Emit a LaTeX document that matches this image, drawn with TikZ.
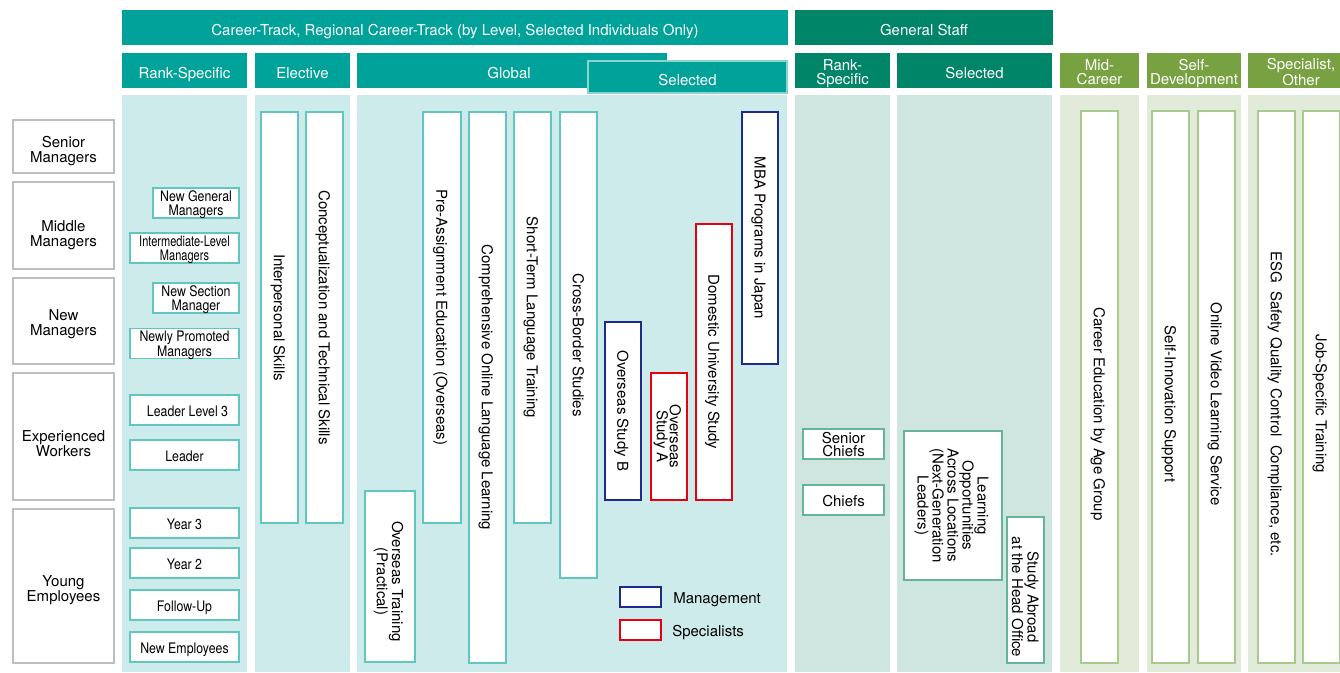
\documentclass[tikz,border=0pt]{standalone}
\usepackage{fontspec}
\setmainfont{TeX Gyre Heros}
\newfontfamily\narrowfont[FakeStretch=0.85]{TeX Gyre Heros}
\newfontfamily\narrowerfont[FakeStretch=0.76]{TeX Gyre Heros}
\usetikzlibrary{positioning}
\definecolor{hdteal}{HTML}{00A29A}
\definecolor{hdgreen}{HTML}{008569}
\definecolor{hdolive}{HTML}{78A241}
\definecolor{bgteal}{HTML}{CDEBEA}
\definecolor{bggreen}{HTML}{CEE5E0}
\definecolor{bgolive}{HTML}{E2EBD9}
\definecolor{lnteal}{HTML}{62C6C0}
\definecolor{lngreen}{HTML}{66B39C}
\definecolor{lnolive}{HTML}{A9CA8D}
\definecolor{lngray}{HTML}{BEBEBE}
\definecolor{tabline}{HTML}{8AD4CF}
\definecolor{mgmt}{HTML}{1E2A8C}
\definecolor{spec}{HTML}{E50012}
\newcommand\lift[1]{\rule{0pt}{#1pt}}
\begin{document}
\begin{tikzpicture}[x=1pt,y=-1pt,
  every node/.style={inner sep=0pt,align=center,text depth=0pt,font=\fontsize{15}{14}\selectfont},
  hdr/.style={fill=#1,text=white,minimum height=35,font=\fontsize{15}{14}\selectfont},
  lvl/.style={draw=lngray,line width=2pt,fill=white,minimum width=101,font=\fontsize{15}{15}\selectfont},
  rnk/.style={draw=#1,line width=1.2pt,fill=white,minimum height=30,font=\narrowfont\fontsize{14.5}{13.5}\selectfont},
  rnk/.default=lnteal,
  vbox/.style={draw=#1,line width=1.2pt,fill=white,rotate=-90,minimum height=37},
  vbox/.default=lnteal,
  selbox/.style={draw=#1,line width=2.2pt,fill=white,rotate=-90,minimum height=36},
  vtext/.style={rotate=-90}]
\clip (0,0) rectangle (1340,672);
\fill[white] (0,0) rectangle (1340,672);
%columns
\fill[bgteal] (122,95) rectangle (247,672);
\fill[bgteal] (255,95) rectangle (350,672);
\fill[bgteal] (357,95) rectangle (787,672);
\fill[bggreen] (795,95) rectangle (890,672);
\fill[bggreen] (897,95) rectangle (1052,672);
\fill[bgolive] (1060,95) rectangle (1139,672);
\fill[bgolive] (1147,95) rectangle (1241,672);
\fill[bgolive] (1248,95) rectangle (1354,672);
%headers
\node[hdr=hdteal,minimum width=666] (career) at (455,27.5) {\lift{16.5}Career-Track, Regional Career-Track (by Level, Selected Individuals Only)};
\node[hdr=hdgreen,minimum width=258] (gstaff) at (924,27.5) {\lift{16.5}General Staff};
\node[hdr=hdteal,minimum width=125] (hrank) at (184.5,70.5) {\lift{16.5}Rank-Specific};
\node[hdr=hdteal,minimum width=95] (helect) at (302.5,70.5) {\lift{16.5}Elective};
\node[hdr=hdteal,minimum width=310] (hglob) at (512,70.5) {\lift{16.5}Global\hspace*{6pt}};
\node[hdr=hdteal,draw=tabline,line width=1.5pt,minimum width=199,minimum height=32] (hgsel) at (687.5,77) {\lift{16}Selected};
\node[hdr=hdgreen,minimum width=95] (hgrank) at (842.5,70.5) {\lift{14}Rank-\\Specific};
\node[hdr=hdgreen,minimum width=155] (hgsel2) at (974.5,70.5) {\lift{16.5}Selected};
\node[hdr=hdolive,minimum width=79] (hmid) at (1099.5,70.5) {\lift{14}Mid-\\Career};
\node[hdr=hdolive,minimum width=94] (hself) at (1194,70.5) {\lift{14}Self-\\Development};
\node[hdr=hdolive,minimum width=106] (hspec) at (1301,70.5) {\lift{14}Specialist,\\Other};
%levels
\node[lvl,minimum height=53] (sm) at (63.5,146.5) {\lift{16.6}Senior\\Managers};
\node[lvl,minimum height=87] (mm) at (63.5,225.5) {\lift{27}Middle\\Managers};
\node[lvl,minimum height=86] (nm) at (63.5,321) {\lift{13}New\\Managers};
\node[lvl,minimum height=127] (ew) at (63.5,436.5) {\lift{25}Experienced\\Workers};
\node[lvl,minimum height=154] (ye) at (63.5,586) {\lift{16.4}Young\\Employees};
%rank-specific
\node[rnk,minimum width=86] (ngm) at (196,203) {New General\\Managers};
\node[rnk,minimum width=109,font=\narrowerfont\fontsize{14.5}{13.5}\selectfont] (ilm) at (184.5,248) {Intermediate-Level\\Managers};
\node[rnk,minimum width=86] (nsm) at (196,298) {New Section\\Manager};
\node[rnk,minimum width=109] (npm) at (184.5,343.5) {Newly Promoted\\Managers};
\node[rnk,minimum width=109] (ll3) at (184.5,410) {\lift{12}\hspace*{6pt}Leader Level 3};
\node[rnk,minimum width=109] (ldr) at (184.5,455) {\lift{12}Leader};
\node[rnk,minimum width=109] (yr3) at (184.5,523) {\lift{12}Year 3};
\node[rnk,minimum width=109] (yr2) at (184.5,563) {\lift{12}Year 2};
\node[rnk,minimum width=109] (fup) at (184.5,605) {\lift{12}Follow-Up};
\node[rnk,minimum width=109] (nemp) at (184.5,647) {\lift{12}New Employees};
%elective
\node[vbox,minimum width=411] (ips) at (279.5,317.5) {Interpersonal Skills};
\node[vbox,minimum width=411] (cts) at (324.5,317.5) {Conceptualization and Technical Skills};
%global
\node[vbox,minimum width=171,minimum height=50] (otp) at (390,576.5) {\hspace*{10pt}Overseas Training\\\hspace*{10pt}(Practical)};
\node[vbox,minimum width=411,minimum height=38] (pae) at (442,317.5) {Pre-Assignment Education (Overseas)};
\node[vbox,minimum width=551] (cll) at (487.5,387.5) {Comprehensive Online Language Learning};
\node[vbox,minimum width=411] (stl) at (532.5,317.5) {Short-Term Language Training};
\node[vbox,minimum width=466] (cbs) at (578.5,345) {Cross-Border Studies};
\node[selbox=mgmt,minimum width=178] (osb) at (623,411) {Overseas Study B};
\node[selbox=spec,minimum width=127,font=\fontsize{15}{13}\selectfont] (osa) at (669,436.5) {Overseas\\Study A};
\node[selbox=spec,minimum width=276] (dus) at (714,362) {Domestic University Study};
\node[selbox=mgmt,minimum width=252] (mba) at (760,238) {MBA Programs in Japan};
%legend
\node[draw=mgmt,line width=2.2pt,fill=white,minimum width=41,minimum height=20] (lgm) at (640.5,597) {};
\node[draw=spec,line width=2.2pt,fill=white,minimum width=41,minimum height=20] (lgs) at (640.5,630) {};
\node[right=11pt of lgm] (lgmt) {\lift{12.6}Management};
\node[right=10pt of lgs] (lgst) {\lift{12.6}Specialists};
%general staff
\node[rnk=lngreen,minimum width=81,font=\fontsize{15}{13}\selectfont] (sch) at (843.5,444) {Senior\\Chiefs};
\node[rnk=lngreen,minimum width=81,font=\fontsize{15}{13}\selectfont] (chf) at (843.5,500) {\lift{12}Chiefs};
\node[vbox=lngreen,minimum width=149,minimum height=98,font=\fontsize{15}{15}\selectfont] (loal) at (953,505.5) {Learning\\Opportunities\\Across Locations\\(Next-Generation\\Leaders)};
\node[vbox=lngreen,minimum width=146,font=\fontsize{15}{14}\selectfont] (saho) at (1025.5,590) {\hspace*{14pt}Study Abroad\\\hspace*{14pt}at the Head Office};
%mid-career, self-development, other
\node[vbox=lnolive,minimum width=552] (ceag) at (1099.5,387) {};
\node[vbox=lnolive,minimum width=552] (sis) at (1170.5,387) {};
\node[vbox=lnolive,minimum width=552] (ovls) at (1216.5,387) {};
\node[vbox=lnolive,minimum width=552] (esg) at (1276.5,387) {};
\node[vbox=lnolive,minimum width=552] (jst) at (1321.5,387) {};
%text
\node[vtext] (ceagt) at ([yshift=-27pt]ceag.center) {Career Education by Age Group};
\node[vtext] (sist) at ([yshift=-17pt]sis.center) {Self-Innovation Support};
\node[vtext] (ovlst) at ([yshift=-17pt]ovls.center) {Online Video Learning Service};
\node[vtext] (esgt) at ([yshift=-17pt]esg.center) {ESG\ \ Safety Quality Control\ \ Compliance, etc.};
\node[vtext] (jstt) at ([yshift=-17pt]jst.center) {Job-Specific Training};
\end{tikzpicture}
\end{document}
